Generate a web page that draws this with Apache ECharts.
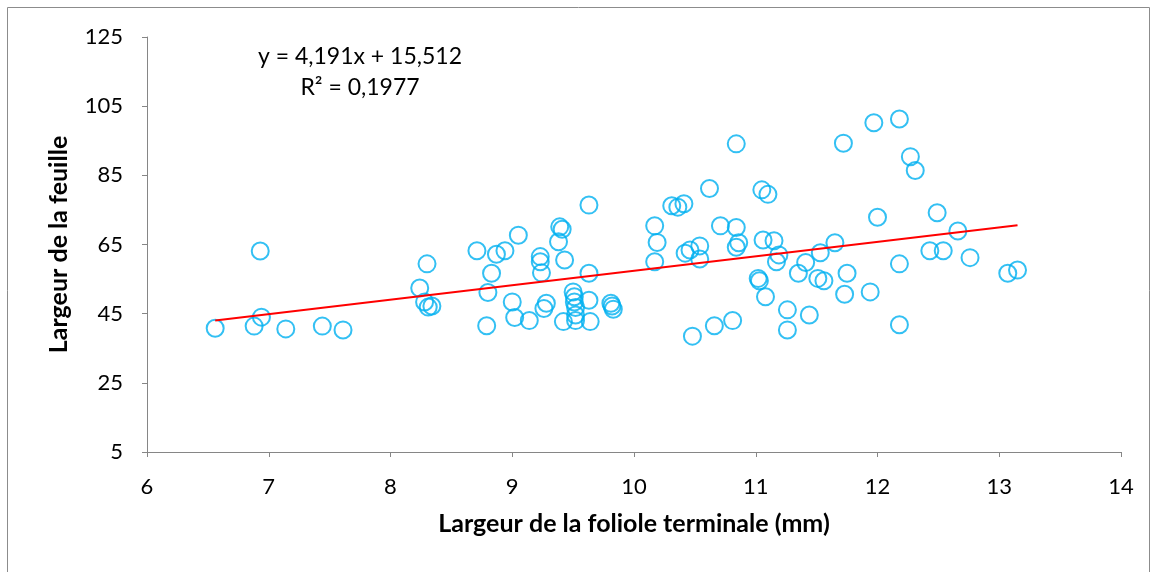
<!DOCTYPE html>
<html>
<head>
<meta charset="utf-8">
<title>Largeur de la feuille</title>
<script src="https://cdn.jsdelivr.net/npm/echarts@6/dist/echarts.min.js"></script>
<style>
  html, body { margin: 0; padding: 0; background: #fff; }
  #chart { width: 1157px; height: 572px; }
</style>
</head>
<body>
<div id="chart"></div>
<script>
// largeur de la foliole terminale (mm)
const foliole = [
  6.56, 6.93, 6.88, 6.94, 7.14, 7.44, 7.61,
  8.30, 8.24, 8.28, 8.31, 8.34, 8.71, 8.87, 8.94, 9.05, 8.83, 8.80, 8.79,
  9.00, 9.02, 9.14, 9.23, 9.23, 9.24, 9.26, 9.28, 9.39, 9.41, 9.38, 9.43,
  9.63, 9.63, 9.50, 9.51, 9.51, 9.52, 9.52, 9.52, 9.42, 9.64, 9.63,
  9.81, 9.82, 9.83, 10.17, 10.19, 10.17, 10.31, 10.36, 10.41, 10.62,
  10.42, 10.46, 10.54, 10.54, 10.71, 10.84, 10.86, 10.84, 11.05, 11.10,
  11.06, 11.15, 11.19, 11.17, 11.02, 11.03, 11.08, 11.35, 11.41, 11.53,
  11.51, 11.56, 11.65, 11.26, 11.26, 11.44, 10.81, 10.66, 10.48,
  12.27, 12.31, 10.84, 11.72, 11.97, 12.18, 12.00, 12.49, 12.66, 12.43,
  12.54, 12.76, 12.18, 11.75, 11.73, 11.94, 12.18, 13.07, 13.15
];

// largeur de la feuille
const feuille = [
  40.8, 63.1, 41.4, 44.0, 40.6, 41.4, 40.3,
  59.4, 52.4, 48.4, 46.9, 47.2, 63.2, 62.2, 63.2, 67.7, 56.7, 51.1, 41.5,
  48.4, 43.9, 43.0, 61.5, 60.0, 56.8, 46.5, 48.0, 70.1, 69.4, 65.8, 60.5,
  76.4, 56.7, 51.3, 49.9, 48.4, 46.8, 44.6, 43.0, 42.7, 42.7, 48.9,
  48.0, 47.2, 46.3, 70.4, 65.6, 60.0, 76.2, 75.8, 76.8, 81.2,
  62.5, 63.4, 64.6, 60.8, 70.4, 69.9, 65.5, 64.2, 80.8, 79.5,
  66.3, 66.1, 62.0, 60.0, 55.2, 54.5, 49.9, 56.7, 59.8, 62.6,
  55.2, 54.5, 65.5, 46.1, 40.3, 44.6, 43.0, 41.5, 38.5,
  90.4, 86.4, 94.1, 94.3, 100.2, 101.3, 72.9, 74.2, 68.9, 63.2,
  63.2, 61.2, 59.4, 56.7, 50.6, 51.3, 41.8, 56.7, 57.6
];

// droite de tendance (extrémités)
const trendX = [6.56, 13.15];
const trendY = [43.0, 70.6];

const xTicks = [6, 7, 8, 9, 10, 11, 12, 13, 14];
const yTicks = [5, 25, 45, 65, 85, 105, 125];

const equationText = 'y = 4,191x + 15,512';
const r2Text = 'R² = 0,1977';

const FONT = 'Lato, "Open Sans", sans-serif';

document.addEventListener('DOMContentLoaded', () => {
  drawScatter();
});

function drawScatter() {
  const points = foliole.map((x, i) => [x, feuille[i]]);
  const trend = trendX.map((x, i) => [x, trendY[i]]);

  const axisLine = { show: true, lineStyle: { color: '#868686', width: 1 } };
  const axisTick = { show: true, length: 5, lineStyle: { color: '#868686' } };
  const titleStyle = { color: '#000', fontFamily: FONT, fontSize: 25, fontWeight: 'bold' };

  echarts.init(document.getElementById('chart')).setOption({
    animation: false,
    grid: { left: 147, top: 37, right: 36, bottom: 120 },
    xAxis: {
      type: 'value',
      min: xTicks[0],
      max: xTicks[xTicks.length - 1],
      interval: 1,
      axisLine: axisLine,
      axisTick: axisTick,
      splitLine: { show: false },
      axisLabel: { color: '#000', fontFamily: FONT, fontSize: 22, margin: 24 },
      name: 'Largeur de la foliole terminale (mm)',
      nameLocation: 'middle',
      nameGap: 59,
      nameTextStyle: titleStyle
    },
    yAxis: {
      type: 'value',
      min: yTicks[0],
      max: yTicks[yTicks.length - 1],
      interval: 20,
      axisLine: axisLine,
      axisTick: axisTick,
      splitLine: { show: false },
      axisLabel: { color: '#000', fontFamily: FONT, fontSize: 22, margin: 24 },
      name: 'Largeur de la feuille',
      nameLocation: 'middle',
      nameGap: 76,
      nameTextStyle: titleStyle
    },
    series: [
      {
        type: 'scatter',
        data: points,
        symbol: 'circle',
        symbolSize: 17,
        itemStyle: { color: 'rgba(255,255,255,0)', borderColor: '#00B0F0', borderWidth: 2 },
        z: 2
      },
      {
        type: 'line',
        data: trend,
        symbol: 'none',
        lineStyle: { color: '#FF0000', width: 2 },
        z: 3
      }
    ],
    graphic: [
      {
        type: 'rect',
        shape: { x: 7.5, y: 7.5, width: 1142, height: 600 },
        style: { fill: 'none', stroke: '#8c8c8c', lineWidth: 1 },
        silent: true
      },
      {
        type: 'text',
        x: 360, y: 57,
        style: { text: equationText, font: '23px ' + FONT, fill: '#000', align: 'center', verticalAlign: 'middle' }
      },
      {
        type: 'text',
        x: 360, y: 88,
        style: { text: r2Text, font: '23px ' + FONT, fill: '#000', align: 'center', verticalAlign: 'middle' }
      }
    ]
  });
}
</script>
</body>
</html>
